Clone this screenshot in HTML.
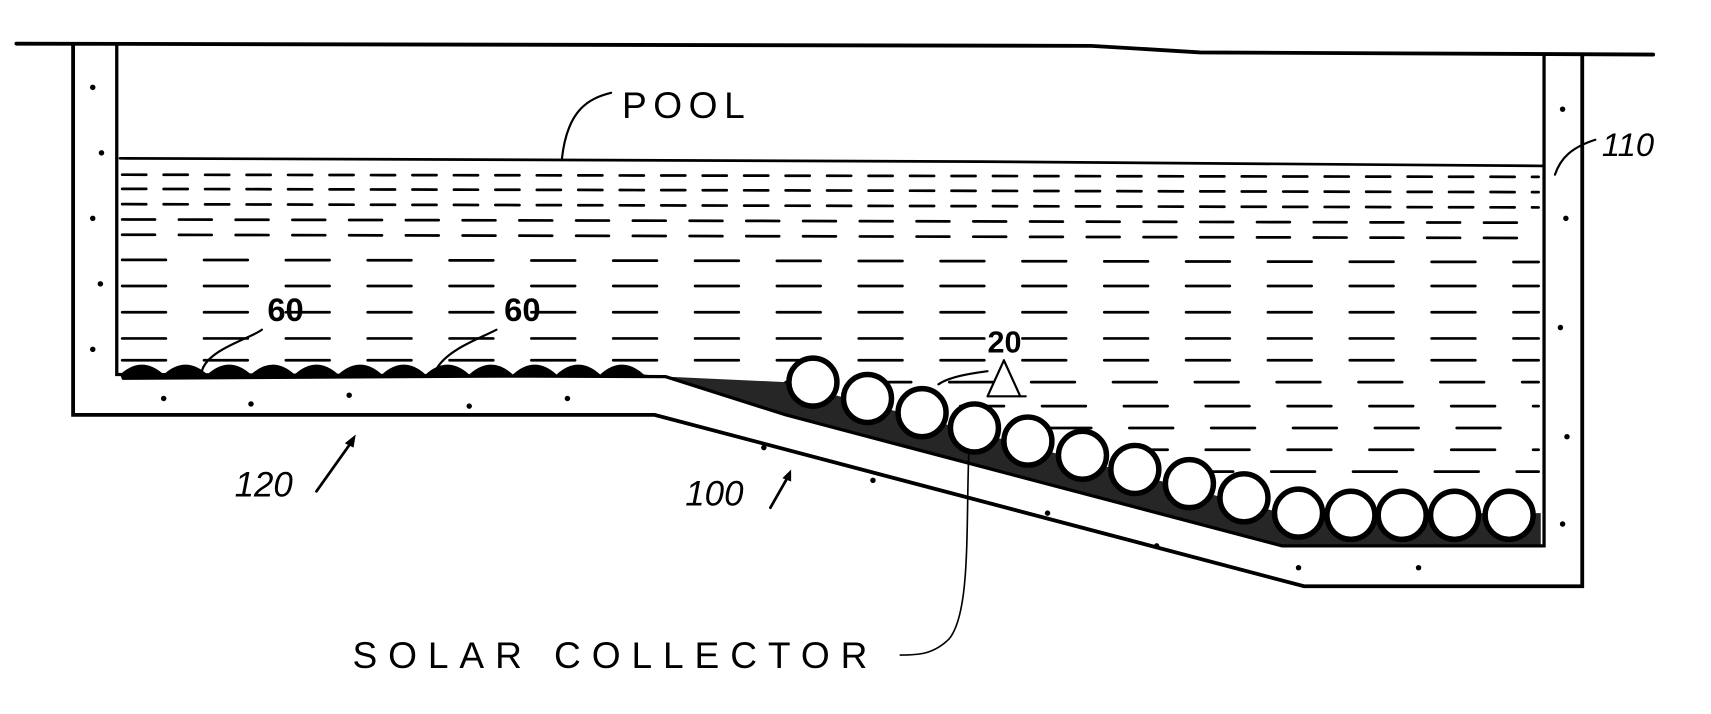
<!DOCTYPE html>
<html><head><style>
html,body{margin:0;padding:0;background:#fff;}
svg{display:block}
text{font-family:"Liberation Sans",sans-serif;fill:#000}
</style></head><body>
<svg width="1711" height="714" viewBox="0 0 1568 654" preserveAspectRatio="none">
<g stroke="#000" fill="none" stroke-linecap="round">
<path d="M15 40 L1000 42 L1100 48 L1515 50" stroke-width="3.5"/>
<path d="M67 42 L67 380 L600 380 L1195 537 L1450 537 L1450 50" stroke-width="3.5"/>
<path d="M107 42 L107 343 L610 345 L720 380 L1175 500 L1415 500 L1415 50" stroke-width="3"/>
<path d="M110 145 L900 148 L1415 152" stroke-width="2.5"/>
<g stroke-width="2.5" stroke-dasharray="22 16">
<path d="M112 160 L1410 162"/>
<path d="M112 173 L1410 176"/>
<path d="M112 187 L1410 190"/>
<path d="M112 201 L1410 204" stroke-dasharray="30 22"/>
<path d="M112 215 L1410 218" stroke-dasharray="30 22"/>
<path d="M112 238 L1410 240" stroke-dasharray="40 35"/>
<path d="M112 262 L1410 262" stroke-dasharray="40 35"/>
<path d="M112 286 L1410 286" stroke-dasharray="40 35"/>
<path d="M112 310 L1410 310" stroke-dasharray="40 35"/>
<path d="M112 330 L1410 330" stroke-dasharray="40 35"/>
<path d="M720 350 L1410 350" stroke-dasharray="40 35"/>
<path d="M880 372 L1410 372" stroke-dasharray="40 35"/>
<path d="M960 392 L1410 392" stroke-dasharray="40 35"/>
<path d="M1030 412 L1410 412" stroke-dasharray="40 35"/>
<path d="M1090 432 L1410 432" stroke-dasharray="40 35"/>
</g>
<path d="M560 85 C540 90 520 100 515 145" stroke-width="2"/>
<path d="M1462 128 C1440 135 1430 145 1425 160" stroke-width="2"/>
<path d="M240 302 C230 310 190 320 185 340" stroke-width="2"/>
<path d="M455 302 C440 310 410 320 400 338" stroke-width="2"/>
<path d="M905 340 C890 342 870 345 860 352" stroke-width="2"/>
<path d="M920 330 L905 363 M920 330 L935 363 M905 363 L940 363" stroke-width="2"/>
<path d="M888 410 C885 480 890 560 870 585 C855 600 840 600 825 600" stroke-width="1.5"/>
<path d="M290 450 L322 405 M706 465 L722 437" stroke-width="2.5"/>
</g>
<path d="M326 398 L316 406 L324 410 Z M725 430 L717 438 L725 441 Z" fill="#000"/>
<path d="M110 343 Q130 325 150 343 Q170 325 190 343 Q210 325 230 343 Q250 325 270 343 Q290 325 310 343 Q330 325 350 343 Q370 325 390 343 Q410 325 430 343 Q450 325 470 343 Q490 325 510 343 Q530 325 550 343 Q570 325 590 343 L610 345 L112 348 Z" fill="#000"/>
<path d="M610 345 L720 380 L1175 500 L1412 500 L1412 470 L1175 470 L720 350 Z" fill="#000" opacity="0.85"/>
<g fill="#fff" stroke="#000" stroke-width="5">
<circle cx="745" cy="350" r="22"/><circle cx="795" cy="365" r="22"/><circle cx="845" cy="378" r="22"/>
<circle cx="893" cy="392" r="22"/><circle cx="942" cy="404" r="22"/><circle cx="992" cy="417" r="22"/>
<circle cx="1040" cy="430" r="22"/><circle cx="1090" cy="443" r="22"/><circle cx="1140" cy="456" r="22"/>
<circle cx="1190" cy="470" r="22"/><circle cx="1238" cy="472" r="22"/><circle cx="1285" cy="472" r="22"/>
<circle cx="1333" cy="472" r="22"/><circle cx="1383" cy="472" r="22"/>
</g>
<g fill="#000">
<circle cx="85" cy="80" r="2.5"/><circle cx="93" cy="140" r="2.5"/><circle cx="85" cy="200" r="2.5"/><circle cx="92" cy="260" r="2.5"/><circle cx="85" cy="320" r="2.5"/>
<circle cx="150" cy="365" r="2.5"/><circle cx="230" cy="370" r="2.5"/><circle cx="320" cy="362" r="2.5"/><circle cx="430" cy="372" r="2.5"/><circle cx="520" cy="365" r="2.5"/>
<circle cx="700" cy="410" r="2.5"/><circle cx="800" cy="440" r="2.5"/><circle cx="960" cy="470" r="2.5"/><circle cx="1060" cy="500" r="2.5"/><circle cx="1190" cy="520" r="2.5"/><circle cx="1300" cy="520" r="2.5"/>
<circle cx="1432" cy="100" r="2.5"/><circle cx="1435" cy="200" r="2.5"/><circle cx="1430" cy="300" r="2.5"/><circle cx="1436" cy="400" r="2.5"/><circle cx="1432" cy="480" r="2.5"/>
</g>
<text x="570" y="108" font-size="34" letter-spacing="6">POOL</text>
<text x="1468" y="143" font-size="30" font-style="italic">110</text>
<text x="245" y="294" font-size="30" font-weight="bold">60</text>
<text x="462" y="294" font-size="30" font-weight="bold">60</text>
<text x="905" y="323" font-size="28" font-weight="bold">20</text>
<text x="215" y="455" font-size="32" font-style="italic">120</text>
<text x="628" y="463" font-size="32" font-style="italic">100</text>
<text x="323" y="612" font-size="34" letter-spacing="10">SOLAR COLLECTOR</text>
</svg>
</body></html>
